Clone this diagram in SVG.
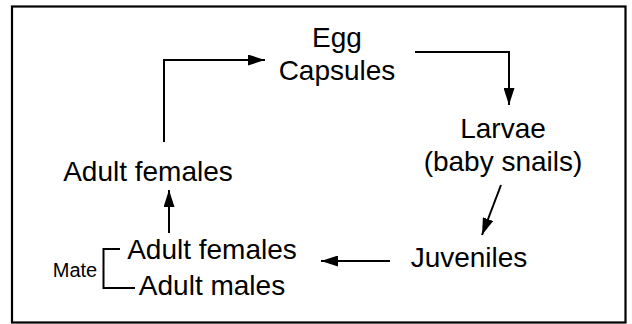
<svg xmlns="http://www.w3.org/2000/svg" width="632" height="324" viewBox="0 0 632 324">
<style>
.t{font-family:"Liberation Sans",Arial,sans-serif;font-size:28px;fill:#000;text-anchor:middle}
.s{font-family:"Liberation Sans",Arial,sans-serif;font-size:20px;fill:#000;text-anchor:middle}
.c{fill:none;stroke:#000;stroke-width:2}
</style>
<defs>
<marker id="ah" viewBox="0 0 17 11" refX="17" refY="5.5" markerWidth="17" markerHeight="11" markerUnits="userSpaceOnUse" orient="auto">
<path d="M0,0 L17,5.5 L0,11 Z" fill="#000"/>
</marker>
</defs>
<rect x="0" y="0" width="632" height="324" fill="#fff"/>
<rect x="12" y="6.5" width="613.5" height="316" fill="none" stroke="#000" stroke-width="2.2"/>
<g id="egg"><text class="t" x="337" y="47">Egg</text><text class="t" x="337" y="80">Capsules</text></g>
<g id="larvae"><text class="t" x="503" y="138">Larvae</text><text class="t" x="503" y="171">(baby snails)</text></g>
<g id="juveniles"><text class="t" x="469" y="267">Juveniles</text></g>
<g id="adult-females-top"><text class="t" x="148" y="181">Adult females</text></g>
<g id="mating">
<text class="t" x="212" y="259">Adult females</text>
<text class="t" x="212" y="295">Adult males</text>
<text class="s" x="75" y="277">Mate</text>
<path class="c" d="M120,249 H103.5 V288 H135"/>
</g>
<g id="connectors">
<path class="c" d="M164,142 V60 H265" marker-end="url(#ah)"/>
<path class="c" d="M415,52 H509 V105" marker-end="url(#ah)"/>
<path class="c" d="M501,185 L482,235" marker-end="url(#ah)"/>
<path class="c" d="M390,261 H321" marker-end="url(#ah)"/>
<path class="c" d="M169,233 V190" marker-end="url(#ah)"/>
</g>
</svg>
